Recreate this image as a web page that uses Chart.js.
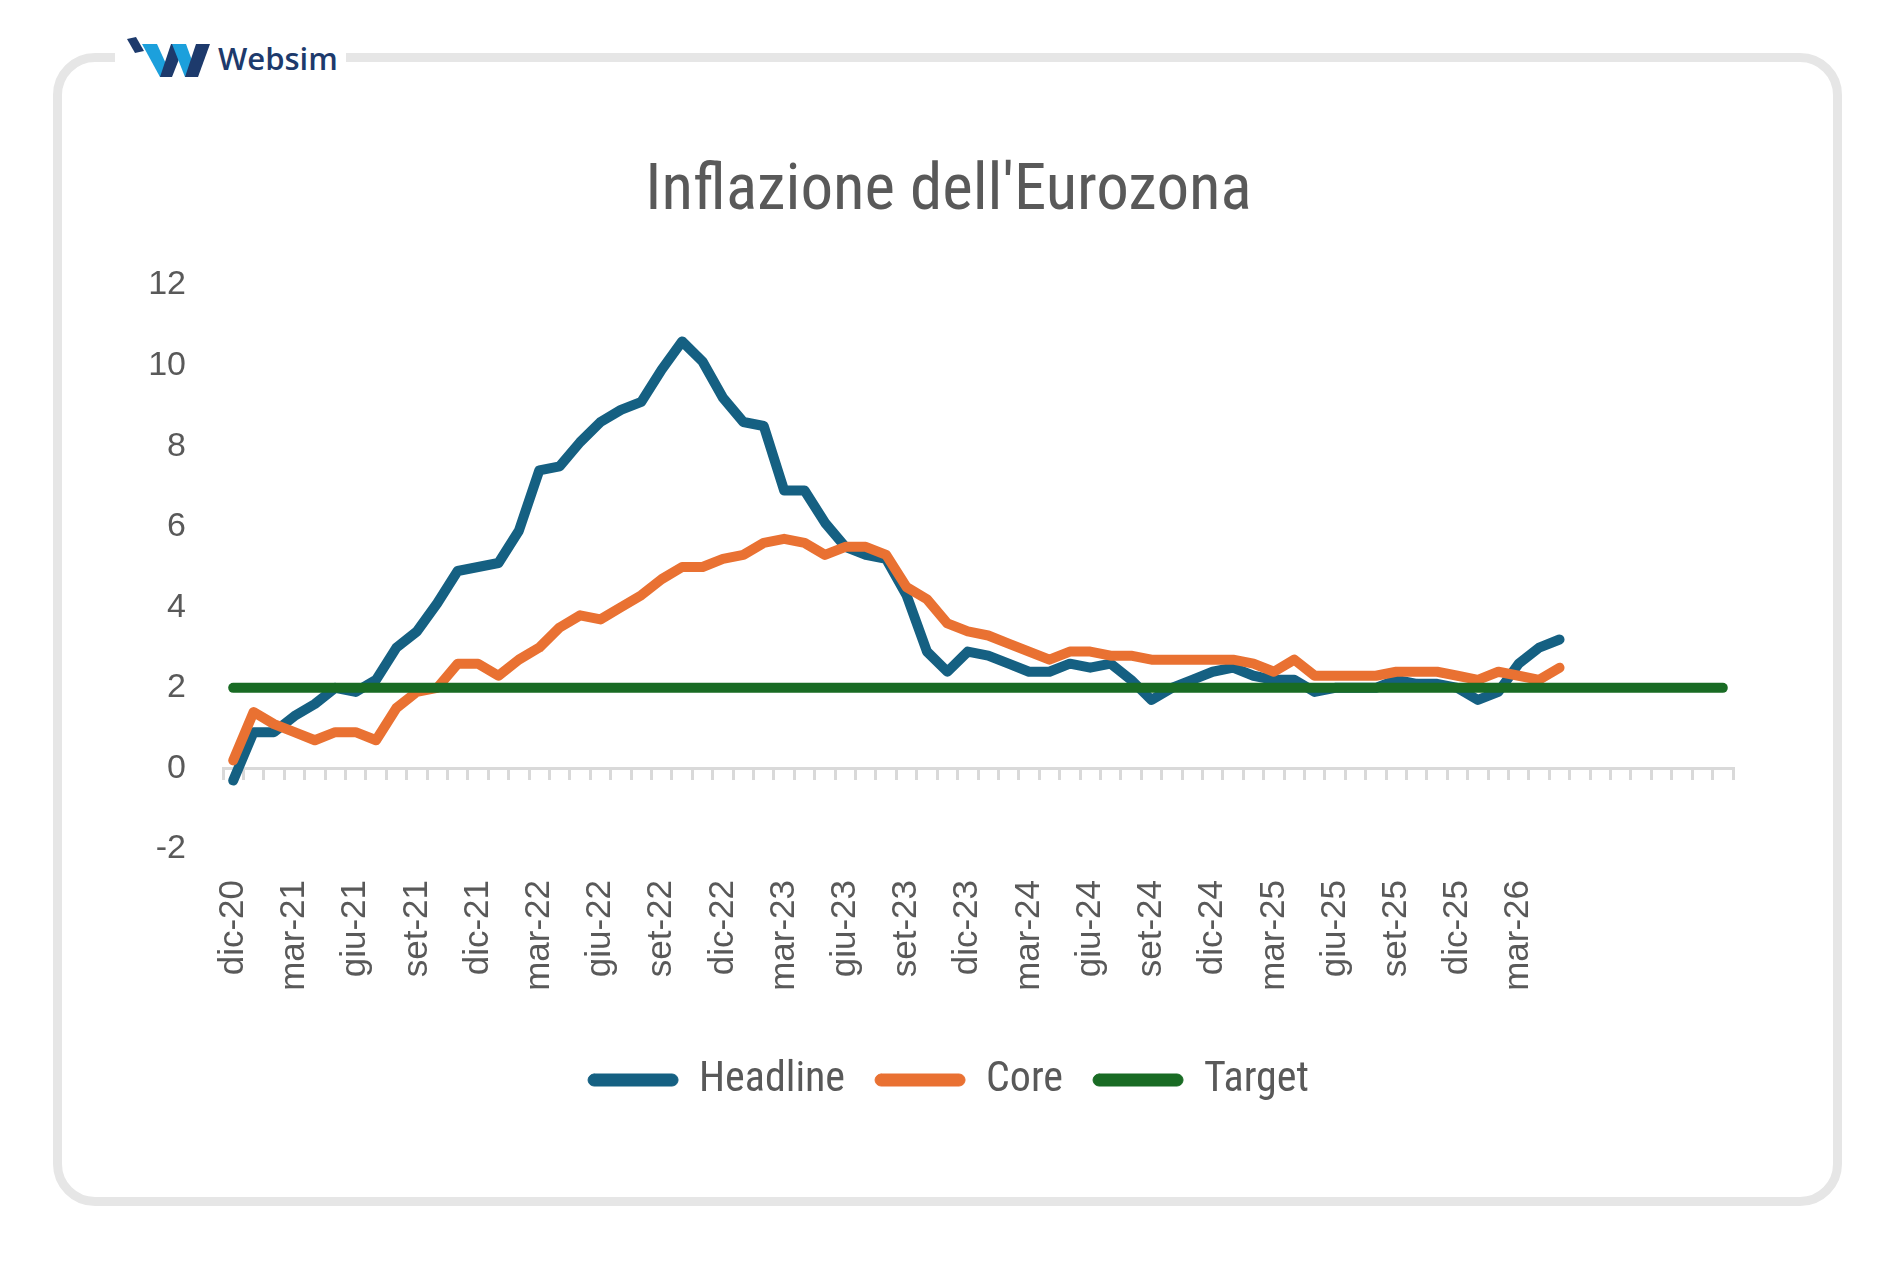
<!DOCTYPE html>
<html>
<head>
<meta charset="utf-8">
<script src="https://cdn.jsdelivr.net/npm/chart.js@4.4.1/dist/chart.umd.min.js"></script>
<style>
  html, body { margin: 0; padding: 0; background: #fff; }
  body { width: 1897px; height: 1261px; position: relative; overflow: hidden; }
  .card {
    position: absolute; left: 53px; top: 53px; width: 1789px; height: 1153px;
    box-sizing: border-box; border: 9px solid #e6e6e6; border-radius: 42px;
  }
  .logo { position: absolute; left: 115px; top: 28px; width: 231px; height: 56px; background: #fff; }
  #chartCanvas { position: absolute; left: 0; top: 0; }
</style>
</head>
<body>
<div class="card"></div>
<div class="logo">
  <svg width="231" height="56" viewBox="0 0 231 56">
    <polygon points="12,11 21,9 29,23 20,25" fill="#1d3a6c"/>
    <polygon points="27,16 42,16 57,49 45,49" fill="#1ca0dc"/>
    <polygon points="45,49 57,49 70,16 56,16" fill="#1d3a6c"/>
    <polygon points="57,16 71,16 83,49 70,49" fill="#1ca0dc"/>
    <polygon points="70,49 83,49 95,16 81,16" fill="#1d3a6c"/>
    <text x="103" y="42" font-family="'Open Sans', sans-serif" font-size="31" font-weight="600" fill="#1d3a6c">Websim</text>
  </svg>
</div>
<canvas id="chartCanvas" width="1897" height="1261"></canvas>
<script>
// months dic-20 .. mag-26, then empty slots to gen-27
const categories = [
  'dic-20', 'gen-21', 'feb-21', 'mar-21', 'apr-21', 'mag-21', 'giu-21', 'lug-21', 'ago-21', 'set-21', 'ott-21', 'nov-21',
  'dic-21', 'gen-22', 'feb-22', 'mar-22', 'apr-22', 'mag-22', 'giu-22', 'lug-22', 'ago-22', 'set-22', 'ott-22', 'nov-22',
  'dic-22', 'gen-23', 'feb-23', 'mar-23', 'apr-23', 'mag-23', 'giu-23', 'lug-23', 'ago-23', 'set-23', 'ott-23', 'nov-23',
  'dic-23', 'gen-24', 'feb-24', 'mar-24', 'apr-24', 'mag-24', 'giu-24', 'lug-24', 'ago-24', 'set-24', 'ott-24', 'nov-24',
  'dic-24', 'gen-25', 'feb-25', 'mar-25', 'apr-25', 'mag-25', 'giu-25', 'lug-25', 'ago-25', 'set-25', 'ott-25', 'nov-25',
  'dic-25', 'gen-26', 'feb-26', 'mar-26', 'apr-26', 'mag-26',
  '', '', '', '', '', '', '', ''
];

const headline = [
  -0.3, 0.9, 0.9, 1.3, 1.6, 2.0, 1.9, 2.2, 3.0, 3.4, 4.1, 4.9,
  5.0, 5.1, 5.9, 7.4, 7.5, 8.1, 8.6, 8.9, 9.1, 9.9, 10.6, 10.1,
  9.2, 8.6, 8.5, 6.9, 6.9, 6.1, 5.5, 5.3, 5.2, 4.3, 2.9, 2.4,
  2.9, 2.8, 2.6, 2.4, 2.4, 2.6, 2.5, 2.6, 2.2, 1.7, 2.0, 2.2,
  2.4, 2.5, 2.3, 2.2, 2.2, 1.9, 2.0, 2.0, 2.0, 2.2, 2.1, 2.1,
  2.0, 1.7, 1.9, 2.6, 3.0, 3.2
];

const core = [
  0.2, 1.4, 1.1, 0.9, 0.7, 0.9, 0.9, 0.7, 1.5, 1.9, 2.0, 2.6,
  2.6, 2.3, 2.7, 3.0, 3.5, 3.8, 3.7, 4.0, 4.3, 4.7, 5.0, 5.0,
  5.2, 5.3, 5.6, 5.7, 5.6, 5.3, 5.5, 5.5, 5.3, 4.5, 4.2, 3.6,
  3.4, 3.3, 3.1, 2.9, 2.7, 2.9, 2.9, 2.8, 2.8, 2.7, 2.7, 2.7,
  2.7, 2.7, 2.6, 2.4, 2.7, 2.3, 2.3, 2.3, 2.3, 2.4, 2.4, 2.4,
  2.3, 2.2, 2.4, 2.3, 2.2, 2.5
];

const target = [
  2, 2, 2, 2, 2, 2, 2, 2, 2, 2, 2, 2, 2, 2, 2, 2, 2, 2, 2, 2, 2, 2, 2, 2, 2,
  2, 2, 2, 2, 2, 2, 2, 2, 2, 2, 2, 2, 2, 2, 2, 2, 2, 2, 2, 2, 2, 2, 2, 2, 2,
  2, 2, 2, 2, 2, 2, 2, 2, 2, 2, 2, 2, 2, 2, 2, 2, 2, 2, 2, 2, 2, 2, 2, 2
];

const yMin = -2;
const yMax = 12;
const yStep = 2;

const textGrey = '#595959';
const narrow = "'Roboto Condensed', 'DejaVu Sans Condensed', sans-serif";

Chart.defaults.font.family = "'Liberation Sans', Arial, sans-serif";
Chart.defaults.color = textGrey;

// keep title and legend centred on the card while the y axis keeps room for its labels
const centerBoxes = {
  id: 'centerBoxes',
  afterLayout: function (chart) {
    if (chart.titleBlock) chart.titleBlock.left = 164;
    if (chart.legend) chart.legend.left = 164;
  }
};

const ctx = document.getElementById('chartCanvas').getContext('2d');

new Chart(ctx, {
  type: 'line',
  data: {
    labels: categories,
    datasets: [
      { label: 'Headline', data: headline, borderColor: '#156082', backgroundColor: '#156082', borderWidth: 10, order: 3 },
      { label: 'Core', data: core, borderColor: '#E97132', backgroundColor: '#E97132', borderWidth: 10, order: 2 },
      { label: 'Target', data: target, borderColor: '#196B24', backgroundColor: '#196B24', borderWidth: 10, order: 1 }
    ]
  },
  plugins: [centerBoxes],
  options: {
    responsive: false,
    animation: false,
    elements: {
      point: { radius: 0, hoverRadius: 0 },
      line: { tension: 0, borderCapStyle: 'round', borderJoinStyle: 'round' }
    },
    layout: { padding: { left: 100, right: 164, top: 154, bottom: 150 } },
    plugins: {
      tooltip: { enabled: false },
      title: {
        display: true,
        text: "Inflazione dell'Eurozona",
        color: textGrey,
        font: { family: narrow, size: 65, weight: 'normal' },
        padding: { top: 0, bottom: 53 }
      },
      legend: {
        position: 'bottom',
        labels: {
          color: textGrey,
          font: { family: narrow, size: 42 },
          boxWidth: 90,
          boxHeight: 12,
          useBorderRadius: true,
          borderRadius: 6,
          padding: 30,
          generateLabels: function (chart) {
            const items = Chart.defaults.plugins.legend.labels.generateLabels(chart);
            items.forEach(function (it) {
              it.fillStyle = it.strokeStyle;
              it.lineWidth = 1;
            });
            return items.sort(function (a, b) { return a.datasetIndex - b.datasetIndex; });
          }
        }
      }
    },
    scales: {
      x: {
        offset: true,
        grid: { display: false, drawTicks: false },
        border: { display: false },
        ticks: {
          autoSkip: false,
          maxRotation: 90,
          minRotation: 90,
          padding: 31,
          color: textGrey,
          font: { size: 35 },
          callback: function (value, index) {
            return index % 3 === 0 ? categories[index] : '';
          }
        },
        afterFit: function (scale) { scale.height = 180; }
      },
      // axis line with tick marks crossing at y = 0
      x2: {
        axis: 'x',
        type: 'category',
        position: { y: 0 },
        offset: true,
        grid: { display: true, offset: true, drawOnChartArea: false, drawTicks: true, tickLength: 10, color: '#d9d9d9', lineWidth: 3 },
        border: { display: true, color: '#d9d9d9', width: 3 },
        ticks: { display: false, autoSkip: false }
      },
      y: {
        min: yMin,
        max: yMax,
        ticks: { stepSize: yStep, padding: 37, color: textGrey, font: { size: 34 } },
        grid: { display: false, drawTicks: false },
        border: { display: false },
        afterFit: function (scale) { scale.width = 123; }
      }
    }
  }
});
</script>
</body>
</html>
